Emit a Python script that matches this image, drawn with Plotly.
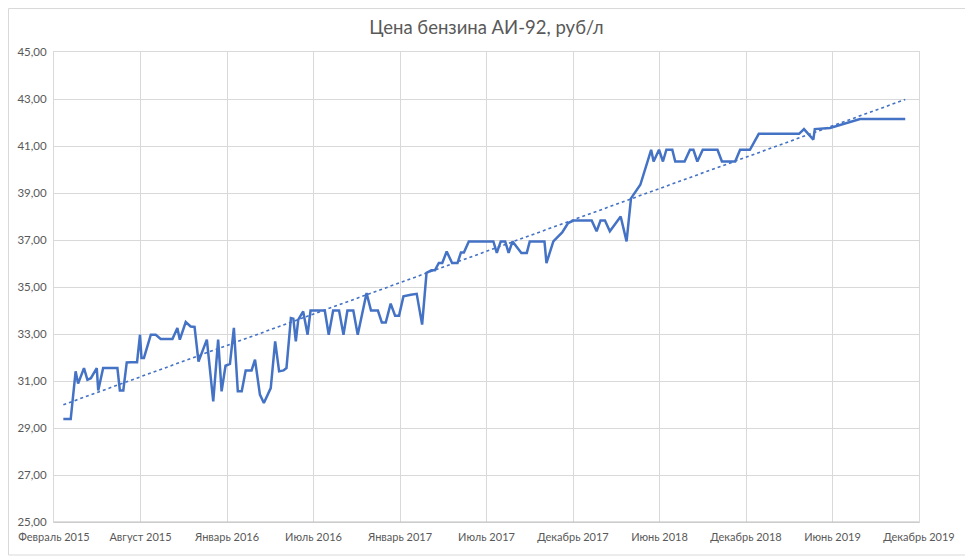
import plotly.graph_objects as go

# Weekly price of AI-92 petrol (turning points of the series), rub/l
dates = [
    "2015-02-25", "2015-03-12", "2015-03-22", "2015-03-27", "2015-04-08",
    "2015-04-15", "2015-04-22", "2015-05-04", "2015-05-07", "2015-05-17",
    "2015-06-15", "2015-06-20", "2015-06-27", "2015-07-04", "2015-07-12",
    "2015-07-22", "2015-07-25", "2015-07-31", "2015-08-03", "2015-08-08",
    "2015-08-22", "2015-09-01", "2015-09-11", "2015-10-05", "2015-10-15",
    "2015-10-20", "2015-11-01", "2015-11-11", "2015-11-19", "2015-11-27",
    "2015-12-14", "2015-12-27", "2016-01-06", "2016-01-13", "2016-01-21",
    "2016-01-30", "2016-02-07", "2016-02-15", "2016-02-23", "2016-03-02",
    "2016-03-14", "2016-03-21", "2016-03-31", "2016-04-08", "2016-04-22",
    "2016-05-01", "2016-05-09", "2016-05-18", "2016-05-24", "2016-06-02",
    "2016-06-07", "2016-06-12", "2016-06-17", "2016-06-27", "2016-07-06",
    "2016-07-12", "2016-08-10", "2016-08-18", "2016-08-27", "2016-09-08",
    "2016-09-17", "2016-09-25", "2016-10-07", "2016-10-16", "2016-11-03",
    "2016-11-12", "2016-11-26", "2016-12-04", "2016-12-12", "2016-12-22",
    "2016-12-31", "2017-01-08", "2017-01-17", "2017-02-01", "2017-02-13",
    "2017-02-24", "2017-03-05", "2017-03-15", "2017-03-22", "2017-03-30",
    "2017-04-06", "2017-04-15", "2017-04-26", "2017-05-07", "2017-05-14",
    "2017-05-20", "2017-05-30", "2017-07-19", "2017-07-26", "2017-08-03",
    "2017-08-12", "2017-08-19", "2017-08-27", "2017-09-14", "2017-09-25",
    "2017-10-01", "2017-10-31", "2017-11-04", "2017-11-18", "2017-11-28",
    "2017-12-06", "2017-12-18", "2017-12-29", "2018-02-04", "2018-02-14",
    "2018-02-22", "2018-03-03", "2018-03-13", "2018-04-04", "2018-04-16",
    "2018-04-25", "2018-05-14", "2018-06-05", "2018-06-10", "2018-06-21",
    "2018-06-29", "2018-07-06", "2018-07-18", "2018-07-24", "2018-08-12",
    "2018-08-23", "2018-08-30", "2018-09-07", "2018-09-18", "2018-10-18",
    "2018-10-27", "2018-11-23", "2018-12-03", "2018-12-23", "2019-01-10",
    "2019-04-02", "2019-04-12", "2019-05-01", "2019-05-04", "2019-06-04",
    "2019-08-04", "2019-11-04",
]
prices = [
    29.38, 29.38, 31.41, 30.89, 31.55,
    31.05, 31.12, 31.55, 30.60, 31.55,
    31.55, 30.60, 30.60, 31.79, 31.80,
    31.80, 31.80, 32.97, 31.98, 31.98,
    32.97, 32.97, 32.79, 32.79, 33.26,
    32.76, 33.51, 33.32, 33.30, 31.83,
    32.76, 30.13, 32.76, 30.56, 31.65,
    31.73, 33.26, 30.56, 30.56, 31.45,
    31.45, 31.91, 30.42, 30.06, 30.70,
    32.69, 31.41, 31.45, 31.55, 33.68,
    33.65, 32.69, 33.61, 33.96, 32.97,
    34.00, 34.00, 32.97, 34.00, 34.00,
    32.97, 34.00, 34.00, 32.97, 34.74,
    34.00, 34.00, 33.49, 33.49, 34.29,
    33.78, 33.78, 34.60, 34.67, 34.71,
    33.40, 35.60, 35.71, 35.71, 36.02,
    36.02, 36.51, 36.02, 36.02, 36.47,
    36.47, 36.94, 36.94, 36.45, 36.94,
    36.94, 36.45, 36.94, 36.45, 36.45,
    36.94, 36.94, 36.02, 36.94, 37.15,
    37.32, 37.72, 37.83, 37.83, 37.37,
    37.83, 37.83, 37.37, 38.00, 36.94,
    38.77, 39.35, 40.84, 40.34, 40.84,
    40.34, 40.84, 40.84, 40.34, 40.34,
    40.84, 40.84, 40.34, 40.84, 40.84,
    40.34, 40.34, 40.84, 40.84, 41.52,
    41.52, 41.72, 41.27, 41.72, 41.77,
    42.15, 42.15,
]

# linear trend line, ends
trend_dates = ["2015-02-25", "2019-11-04"]
trend_values = [29.99, 42.98]

tick_dates = [
    "2015-02-06", "2015-08-01", "2016-01-24", "2016-07-18", "2017-01-10",
    "2017-07-05", "2017-12-28", "2018-06-22", "2018-12-15", "2019-06-09",
    "2019-12-02",
]
tick_labels = [
    "Февраль 2015", "Август 2015", "Январь 2016", "Июль 2016", "Январь 2017",
    "Июль 2017", "Декабрь 2017", "Июнь 2018", "Декабрь 2018", "Июнь 2019",
    "Декабрь 2019",
]
y_ticks = list(range(25, 46, 2))

BLUE = "#4472C4"
GRID = "#D9D9D9"
TEXT = "#595959"

fig = go.Figure()

fig.add_trace(go.Scatter(
    x=dates, y=prices, mode="lines",
    line=dict(color=BLUE, width=2.5),
    name="Цена", showlegend=False
))

fig.add_trace(go.Scatter(
    x=trend_dates, y=trend_values, mode="lines",
    line=dict(color=BLUE, width=1.6, dash="dot"),
    name="Линейная", showlegend=False
))

# the page body adds 8px around the figure, so the figure is a bit smaller
fig.update_layout(
    width=965, height=550,
    margin=dict(l=46, r=54, t=44, b=36, autoexpand=False),
    paper_bgcolor="white", plot_bgcolor="white",
    separators=", ",
    font=dict(family="Lato, Open Sans, sans-serif", size=11.5, color=TEXT),
    title=dict(
        text="Цена бензина АИ-92, руб/л",
        xref="paper", x=0.5, xanchor="center", y=0.965, yanchor="middle",
        font=dict(size=18.5, color=TEXT)
    ),
)

fig.update_xaxes(
    type="date", automargin=False,
    range=[tick_dates[0], tick_dates[-1]],
    tickvals=tick_dates, ticktext=tick_labels,
    showgrid=True, gridcolor=GRID, gridwidth=1,
    showline=True, linecolor=GRID, mirror=True,
    ticks="", ticklabelstandoff=5,
    tickfont=dict(size=11, color=TEXT),
    zeroline=False
)

fig.update_yaxes(
    range=[25, 45], automargin=False,
    tickvals=y_ticks, tickformat=".2f",
    showgrid=True, gridcolor=GRID, gridwidth=1,
    showline=True, linecolor=GRID, mirror=True,
    ticks="", ticklabelstandoff=4,
    tickfont=dict(size=11.5, color=TEXT),
    zeroline=False
)

# bottom axis line a bit darker, like the original
fig.add_shape(type="line", xref="paper", yref="paper",
              x0=0, x1=1, y0=0, y1=0,
              line=dict(color="#BFBFBF", width=1))

# chart area border
fig.add_shape(type="rect", xref="paper", yref="paper",
              x0=-45.5 / 865, x1=918.5 / 865, y0=-33 / 470, y1=513.5 / 470,
              line=dict(color=GRID, width=1), fillcolor="rgba(0,0,0,0)")

fig.write_html("out.html")
